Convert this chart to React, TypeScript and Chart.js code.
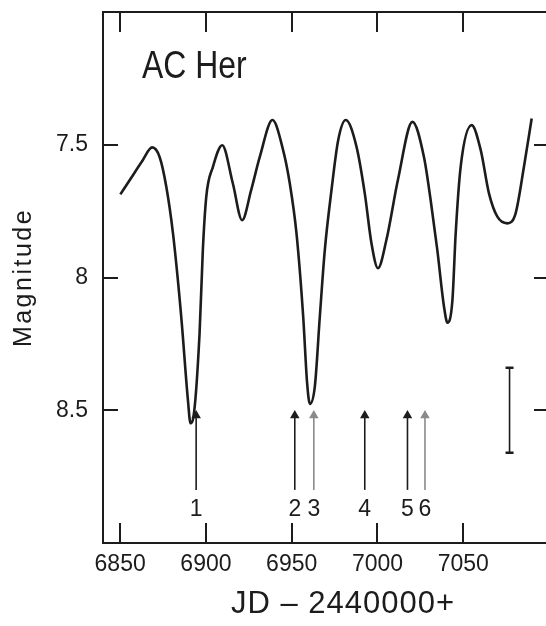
import React, { useEffect, useRef } from "react";
import { Chart, registerables } from "chart.js";

Chart.register(...registerables);

// Light curve of AC Her (JD - 2440000, visual magnitude)
const curveJD = [
  6850.1, 6856.0, 6862.5, 6868.7, 6873.0, 6876.9, 6880.8, 6885.6, 6889.5, 6891.0, 6892.6,
  6896.3, 6898.2, 6900.2, 6904.1, 6909.5, 6915.7, 6921.1, 6926.4, 6931.4, 6938.8,
  6945.0, 6948.9, 6952.8, 6956.7, 6959.0, 6960.6, 6963.5, 6966.4, 6969.3, 6973.2,
  6977.1, 6981.5, 6987.8, 6992.6, 6996.5, 7000.3, 7005.2, 7012.0, 7020.4, 7027.1,
  7031.0, 7034.9, 7038.8, 7040.8, 7043.7, 7045.6, 7048.5, 7054.9, 7060.2, 7065.0,
  7069.9, 7075.7, 7080.5, 7085.4, 7089.9,
];
const curveMag = [
  7.687, 7.629, 7.565, 7.51, 7.546, 7.658, 7.834, 8.147, 8.461, 8.549, 8.53,
  8.21, 7.897, 7.696, 7.583, 7.502, 7.646, 7.784, 7.67, 7.546, 7.407,
  7.52, 7.646, 7.834, 8.147, 8.398, 8.476, 8.41, 8.147, 7.897, 7.671,
  7.483, 7.407, 7.508, 7.683, 7.871, 7.965, 7.859, 7.63, 7.414, 7.546,
  7.708, 7.897, 8.11, 8.17, 8.085, 7.834, 7.583, 7.426, 7.52, 7.683,
  7.771, 7.796, 7.759, 7.583, 7.401,
];

// Arrows marking epochs
const arrowJD = [6894.3, 6951.8, 6962.9, 6992.6, 7017.5, 7027.7];
const arrowLabels = ["1", "2", "3", "4", "5", "6"];
const arrowFaint = [false, false, true, false, false, true];
const arrowHeadMag = 8.52;
const arrowTailMag = 8.8;
const arrowLabelMag = 8.875;

// Typical error bar
const errJD = [7077, 7077];
const errMag = [8.34, 8.66];

// Axes
const xMin = 6840;
const xMax = 7100;
const yMin = 7.0;
const yMax = 9.0;
const xTicks = [6850, 6900, 6950, 7000, 7050];
const yTicks = [7.5, 8, 8.5];
const yTickLabels = ["7.5", "8", "8.5"];

const starName = "AC Her";
const xTitle = "JD – 2440000+";
const yTitle = "Magnitude";

const INK = "#1c1c1c";
const FAINT = "#8a8a8a";
const FONT = '"Liberation Sans", Arial, sans-serif';

const decorPlugin = {
  id: "decor",
  afterDraw(chart: any) {
    const { ctx, chartArea, scales } = chart;
    const { left, right, top, bottom } = chartArea;
    const x = scales.x;
    const y = scales.y;
    ctx.save();
    ctx.strokeStyle = INK;
    ctx.lineWidth = 2;
    ctx.beginPath();
    ctx.moveTo(left, top);
    ctx.lineTo(right, top);
    ctx.lineTo(right, bottom);
    ctx.stroke();

    ctx.lineWidth = 2;
    ctx.beginPath();
    xTicks.forEach((v) => {
      const px = Math.round(x.getPixelForValue(v));
      ctx.moveTo(px, bottom);
      ctx.lineTo(px, bottom - 20);
      ctx.moveTo(px, top);
      ctx.lineTo(px, top + 20);
    });
    yTicks.forEach((v) => {
      const py = Math.round(y.getPixelForValue(v));
      ctx.moveTo(left, py);
      ctx.lineTo(left + 15, py);
      ctx.moveTo(right, py);
      ctx.lineTo(right - 15, py);
    });
    ctx.stroke();

    // arrow labels
    ctx.fillStyle = INK;
    ctx.font = `23px ${FONT}`;
    ctx.textAlign = "center";
    ctx.textBaseline = "middle";
    arrowLabels.forEach((t, i) => {
      ctx.fillText(t, x.getPixelForValue(arrowJD[i]), y.getPixelForValue(arrowLabelMag));
    });

    // star name (condensed)
    ctx.save();
    ctx.font = `38px ${FONT}`;
    ctx.textAlign = "left";
    ctx.textBaseline = "alphabetic";
    ctx.translate(left + 39, top + 66);
    ctx.scale(0.84, 1);
    ctx.fillText(starName, 0, 0);
    ctx.restore();

    // x title
    ctx.font = `31px ${FONT}`;
    (ctx as any).letterSpacing = "1px";
    ctx.textAlign = "center";
    ctx.textBaseline = "alphabetic";
    ctx.fillText(xTitle, (left + right) / 2 + 17, 613);

    // y title
    ctx.font = `25px ${FONT}`;
    (ctx as any).letterSpacing = "2.5px";
    ctx.translate(31, (top + bottom) / 2);
    ctx.rotate(-Math.PI / 2);
    ctx.textAlign = "center";
    ctx.textBaseline = "alphabetic";
    ctx.fillText(yTitle, 0, 0);
    ctx.restore();
  },
};

export default function App() {
  const ref = useRef<HTMLCanvasElement | null>(null);

  useEffect(() => {
    if (!ref.current) return;
    const curve = curveJD.map((jd, i) => ({ x: jd, y: curveMag[i] }));
    const arrowSets = arrowJD.map((jd, i) => ({
      type: "line" as const,
      data: [
        { x: jd, y: arrowTailMag },
        { x: jd, y: arrowHeadMag },
      ],
      borderColor: arrowFaint[i] ? FAINT : INK,
      backgroundColor: arrowFaint[i] ? FAINT : INK,
      borderWidth: 1.6,
      pointRadius: [0, 5.5],
      pointStyle: "triangle",
      pointBorderWidth: 0,
      pointBackgroundColor: arrowFaint[i] ? FAINT : INK,
      tension: 0,
    }));
    const chart = new Chart(ref.current, {
      type: "line",
      data: {
        datasets: [
          {
            data: curve,
            borderColor: INK,
            borderWidth: 2.6,
            pointRadius: 0,
            cubicInterpolationMode: "monotone",
            fill: false,
          },
          ...arrowSets,
          {
            data: errJD.map((jd, i) => ({ x: jd, y: errMag[i] })),
            borderColor: INK,
            borderWidth: 1.6,
            pointStyle: "line",
            pointRadius: 4,
            pointBorderWidth: 2.5,
            pointBorderColor: INK,
            tension: 0,
          },
        ] as any,
      },
      options: {
        responsive: false,
        animation: false,
        devicePixelRatio: 1,
        layout: { padding: { top: 12, right: 11, left: 0, bottom: 0 } },
        plugins: { legend: { display: false }, tooltip: { enabled: false } },
        scales: {
          x: {
            type: "linear",
            min: xMin,
            max: xMax,
            afterBuildTicks: (s: any) => {
              s.ticks = xTicks.map((v) => ({ value: v }));
            },
            afterFit: (s: any) => {
              s.height = 83;
              s.paddingLeft = 0;
              s.paddingRight = 0;
            },
            grid: { display: false, drawTicks: false },
            border: { display: true, color: INK, width: 2 },
            ticks: {
              color: INK,
              font: { family: FONT, size: 23 },
              padding: 8,
              maxRotation: 0,
              autoSkip: false,
              callback: (v: any) => String(v),
            },
          },
          y: {
            type: "linear",
            reverse: true,
            min: yMin,
            max: yMax,
            afterBuildTicks: (s: any) => {
              s.ticks = yTicks.map((v) => ({ value: v }));
            },
            afterFit: (s: any) => {
              s.width = 103;
              s.paddingTop = 0;
              s.paddingBottom = 0;
            },
            grid: { display: false, drawTicks: false },
            border: { display: true, color: INK, width: 2 },
            ticks: {
              color: INK,
              font: { family: FONT, size: 23, lineHeight: 1 },
              padding: 15,
              autoSkip: false,
              callback: (v: any) => yTickLabels[yTicks.indexOf(Number(v))] ?? String(v),
            },
          },
        },
      },
      plugins: [decorPlugin],
    } as any);
    return () => chart.destroy();
  }, []);

  return (
    <div
      style={{
        position: "absolute",
        left: 0,
        top: 0,
        width: 546,
        height: 626,
        overflow: "hidden",
        background: "#fff",
      }}
    >
      <canvas
        ref={ref}
        width={560}
        height={626}
        style={{ display: "block", width: 560, height: 626 }}
      />
    </div>
  );
}
